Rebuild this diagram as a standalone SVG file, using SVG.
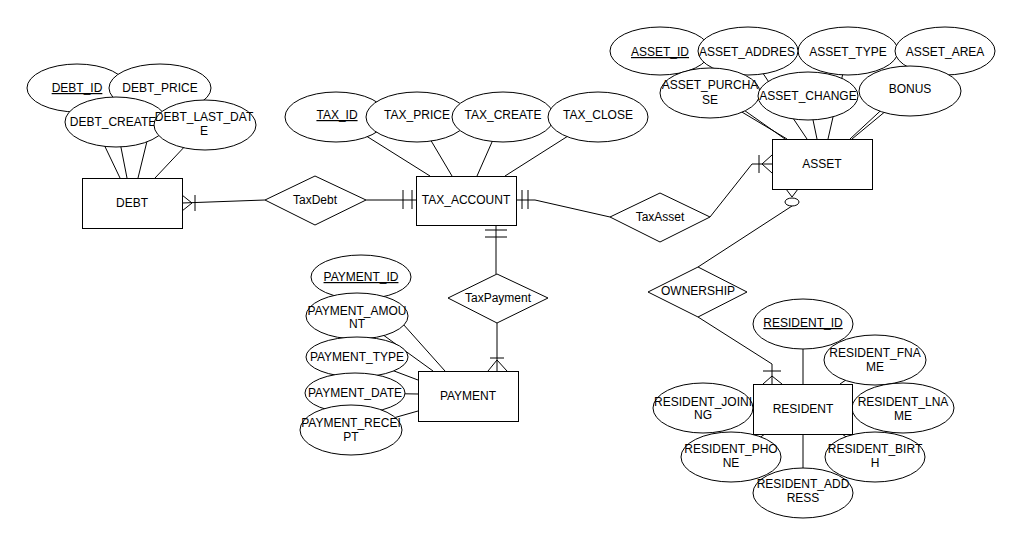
<svg xmlns="http://www.w3.org/2000/svg" width="1021" height="543" viewBox="0 0 1021 543">
<style>
.n{fill:#fff;stroke:#000;stroke-width:1}
.c{fill:none;stroke:#000;stroke-width:1}
text{font-family:"Liberation Sans",Arial,sans-serif;font-size:12px;fill:#000;text-anchor:middle}
.u{text-decoration:underline}
</style>
<rect width="1021" height="543" fill="#fff"/>
<g id="connectors" class="c">
<!-- attribute links -->
<path d="M77 88L120 178M116 122L127 178M160 88L138 178M205 125L155 178"/>
<path d="M336 117L430 176M417 117L452 176M503 117L477 176M598 117L505 176"/>
<path d="M660 51L785 139M710 93L787 139M748 51L807 139M808 96L817 139M848 51L828 139M945 51L850 139M910 91L852 139"/>
<path d="M361 277L445 371M357 316L433 371M357 357L418 380M355 393L418 394M351 430L418 411"/>
<path d="M803 324L803 384M875 360L840 384M703 408L753 409M903 408L853 409M731 457L765 434M875 457L842 434M803 493L803 434"/>
<!-- relationships -->
<path d="M182 203L265 200"/>
<path d="M182 195L192 203L182 211M195 195L195 211"/>
<path d="M366 200L417 200M403 190L403 209M412 190L412 209"/>
<path d="M516 200L535 200L610 217M522 190L522 209M528 190L528 209"/>
<path d="M710 217L752 164L772 164M772 155L762 164L772 173M759 155L759 173"/>
<path d="M792 206L698 267M786 189L792 197L798 189"/>
<ellipse cx="792" cy="202" rx="7" ry="4" class="n"/>
<path d="M698 317L772 364L772 384M763 371L781 371M763 384L772 376L782 384"/>
<path d="M496 226L496 274M485 230L507 230M485 237L507 237"/>
<path d="M497 323L497 371M490 358L504 358M488 371L497 360L507 371"/>
</g>
<g id="DEBT">
<ellipse class="n" cx="77" cy="88" rx="50" ry="24"/><text class="u" x="77" y="92">DEBT_ID</text>
<ellipse class="n" cx="160" cy="88" rx="51" ry="24"/><text x="160" y="92">DEBT_PRICE</text>
<ellipse class="n" cx="116" cy="122" rx="51" ry="25"/><text x="113" y="126">DEBT_CREATE</text>
<ellipse class="n" cx="205" cy="125" rx="51" ry="25"/><text x="204" y="121">DEBT_LAST_DAT</text><text x="204" y="135">E</text>
<rect class="n" x="82.5" y="178.5" width="100" height="50"/><text x="132" y="207">DEBT</text>
</g>
<g id="TAX_ACCOUNT">
<ellipse class="n" cx="336" cy="117" rx="51" ry="25"/><text class="u" x="337" y="119">TAX_ID</text>
<ellipse class="n" cx="417" cy="117" rx="51" ry="25"/><text x="417" y="119">TAX_PRICE</text>
<ellipse class="n" cx="503" cy="117" rx="51" ry="25"/><text x="503" y="119">TAX_CREATE</text>
<ellipse class="n" cx="598" cy="117" rx="50" ry="25"/><text x="598" y="119">TAX_CLOSE</text>
<rect class="n" x="416.5" y="176.5" width="100" height="49"/><text x="466" y="204">TAX_ACCOUNT</text>
</g>
<g id="ASSET">
<ellipse class="n" cx="660" cy="51" rx="50" ry="24"/><text class="u" x="660" y="56">ASSET_ID</text>
<ellipse class="n" cx="848" cy="51" rx="50" ry="24"/><text x="848" y="56">ASSET_TYPE</text>
<ellipse class="n" cx="748" cy="51" rx="50" ry="24"/><text x="747" y="56">ASSET_ADDRES</text>
<ellipse class="n" cx="945" cy="51" rx="50" ry="24"/><text x="945" y="56">ASSET_AREA</text>
<ellipse class="n" cx="710" cy="93" rx="50" ry="25"/><text x="710" y="89">ASSET_PURCHA</text><text x="710" y="104">SE</text>
<ellipse class="n" cx="910" cy="91" rx="51" ry="25"/><text x="910" y="93">BONUS</text>
<ellipse class="n" cx="808" cy="96" rx="50" ry="24"/><text x="808" y="100">ASSET_CHANGE</text>
<rect class="n" x="772.5" y="139.5" width="100" height="50"/><text x="822" y="168">ASSET</text>
</g>
<g id="TaxDebt"><path class="n" d="M265 200L315 176L366 200L315 225Z"/><text x="315" y="204">TaxDebt</text></g>
<g id="TaxAsset"><path class="n" d="M610 217L660 193L710 217L660 242Z"/><text x="660" y="221">TaxAsset</text></g>
<g id="TaxPayment"><path class="n" d="M448 298L497 274L548 298L497 323Z"/><text x="498" y="302">TaxPayment</text></g>
<g id="OWNERSHIP"><path class="n" d="M648 292L698 267L747 292L698 317Z"/><text x="698" y="295">OWNERSHIP</text></g>
<g id="PAYMENT">
<ellipse class="n" cx="361" cy="277" rx="50" ry="22"/><text class="u" x="361" y="281">PAYMENT_ID</text>
<ellipse class="n" cx="357" cy="316" rx="51" ry="23"/><text x="357" y="315">PAYMENT_AMOU</text><text x="357" y="328">NT</text>
<ellipse class="n" cx="357" cy="357" rx="51" ry="20"/><text x="357" y="361">PAYMENT_TYPE</text>
<ellipse class="n" cx="355" cy="393" rx="50" ry="20"/><text x="355" y="397">PAYMENT_DATE</text>
<ellipse class="n" cx="351" cy="430" rx="51" ry="25"/><text x="351" y="427">PAYMENT_RECEI</text><text x="351" y="441">PT</text>
<rect class="n" x="418.5" y="371.5" width="100" height="50"/><text x="468" y="400">PAYMENT</text>
</g>
<g id="RESIDENT">
<ellipse class="n" cx="803" cy="324" rx="50" ry="25"/><text class="u" x="803" y="327">RESIDENT_ID</text>
<ellipse class="n" cx="875" cy="360" rx="51" ry="25"/><text x="875" y="357">RESIDENT_FNA</text><text x="875" y="371">ME</text>
<ellipse class="n" cx="703" cy="408" rx="50" ry="25"/><text x="703" y="406">RESIDENT_JOINI</text><text x="703" y="419">NG</text>
<ellipse class="n" cx="903" cy="408" rx="51" ry="25"/><text x="903" y="406">RESIDENT_LNA</text><text x="903" y="420">ME</text>
<ellipse class="n" cx="731" cy="457" rx="50" ry="25"/><text x="731" y="453">RESIDENT_PHO</text><text x="731" y="467">NE</text>
<ellipse class="n" cx="875" cy="457" rx="50" ry="25"/><text x="875" y="453">RESIDENT_BIRT</text><text x="875" y="467">H</text>
<ellipse class="n" cx="803" cy="493" rx="50" ry="25"/><text x="803" y="488">RESIDENT_ADD</text><text x="803" y="502">RESS</text>
<rect class="n" x="753.5" y="384.5" width="99" height="50"/><text x="803" y="413">RESIDENT</text>
</g>
</svg>
